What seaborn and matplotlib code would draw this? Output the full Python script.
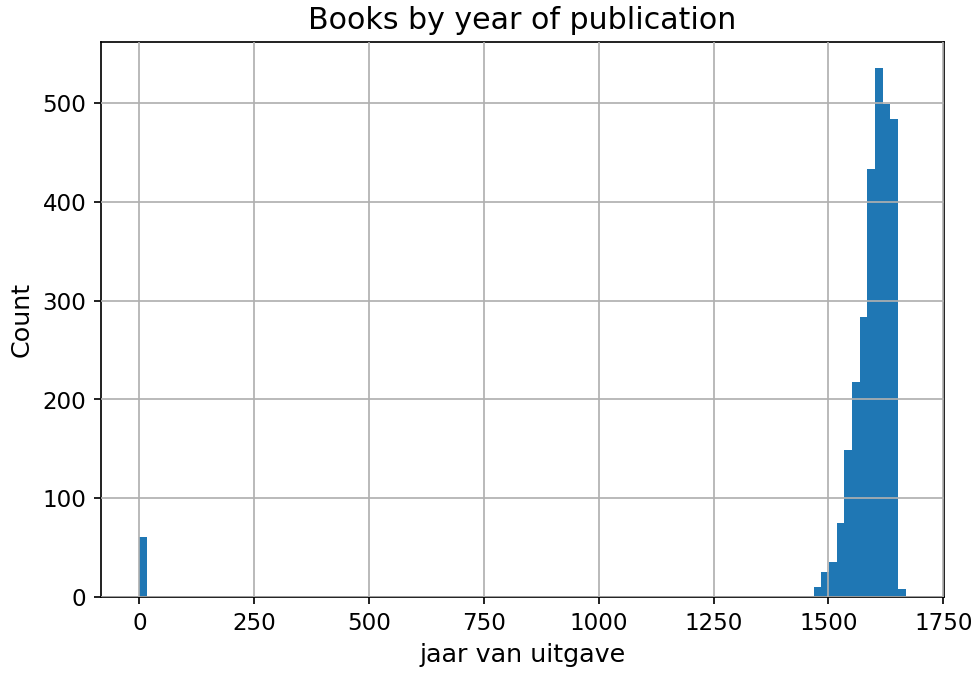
import numpy as np
import pandas as pd
import matplotlib
matplotlib.use("Agg")
import matplotlib.pyplot as plt
import seaborn as sns

# Histogram layout: 100 equal bins spanning the observed year range
year_min = 0
year_max = 1668
n_bins = 100

# Non-empty bins (index into the 100 bins) and their book counts
bin_index = [0, 88, 89, 90, 91, 92, 93, 94, 95, 96, 97, 98, 99]
book_counts = [61, 10, 25, 35, 75, 149, 218, 283, 433, 535, 499, 484, 8]

x_ticks = [0, 250, 500, 750, 1000, 1250, 1500, 1750]
y_ticks = [0, 100, 200, 300, 400, 500]

edges = np.linspace(year_min, year_max, n_bins + 1)
width = edges[1] - edges[0]
df = pd.DataFrame({
    "year": edges[bin_index] + width / 2,
    "count": book_counts,
})

fig, ax = plt.subplots(figsize=(6.4, 4.425), dpi=152.35)
fig.subplots_adjust(left=0.1036, right=0.968, top=0.9377, bottom=0.1142)

sns.histplot(data=df, x="year", weights="count", bins=edges.tolist(), ax=ax,
             color="#1f77b4", alpha=1, edgecolor="none", linewidth=0)

ax.grid(True, color="#b0b0b0", linewidth=0.8)
ax.set_axisbelow(False)
ax.set_xticks(x_ticks)
ax.set_yticks(y_ticks)
ax.set_title("Books by year of publication", fontsize=14.2)
ax.set_xlabel("jaar van uitgave", fontsize=12)
ax.set_ylabel("Count", fontsize=12)
ax.tick_params(labelsize=10.9)

fig.savefig("out.png", dpi=152.35)
